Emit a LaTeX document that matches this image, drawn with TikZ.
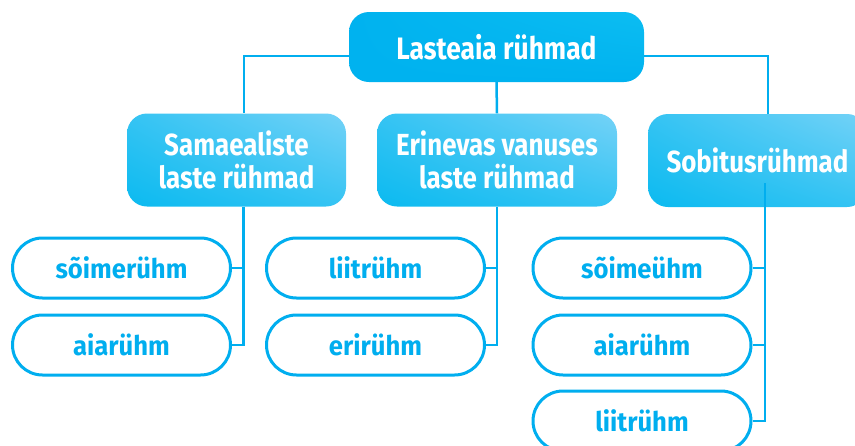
\documentclass[tikz,border=0pt]{standalone}
\usepackage{fontspec}
\setmainfont{Fira Sans}[FakeStretch=0.85]
\newfontfamily\kidfont{Fira Sans}[FakeStretch=0.95]
\usetikzlibrary{shadings}
\definecolor{kidblue}{HTML}{00AEEF}
\definecolor{rootblue}{HTML}{00B2EF}
\definecolor{rootlight}{HTML}{0CBDF2}
\definecolor{grpdark}{HTML}{0BBAF0}
\definecolor{grplight}{HTML}{74D2F7}
\begin{document}
\begin{tikzpicture}[x=1pt,y=-1pt,font=\bfseries,
  rootbox/.style={rounded corners=20pt, minimum width=295pt, minimum height=70pt,
    lower left=rootblue, lower right=rootblue, upper left=rootblue, upper right=rootlight,
    text=white, font=\bfseries\fontsize{31}{36}\selectfont},
  groupbox/.style={rounded corners=20pt, minimum width=219pt, minimum height=93pt, align=center,
    lower left=grpdark, lower right=grpdark!60!grplight, upper left=grpdark!60!grplight, upper right=grplight,
    text=white, font=\bfseries\fontsize{30.5}{33}\selectfont},
  kidbox/.style={draw=kidblue, line width=3pt, fill=white, rounded corners=30pt,
    minimum width=218pt, minimum height=60pt, text=kidblue,
    font=\kidfont\bfseries\fontsize{27}{30}\selectfont},
  link/.style={draw=kidblue, line width=2.5pt}]
\useasboundingbox (0,0) rectangle (855,445);

\node[rootbox] (root) at (496.5,47) {Lasteaia rühmad};

\node[groupbox] (same) at (236.5,160) {Samaealiste\\laste rühmad};
\node[groupbox, minimum width=240pt] (mixed) at (497,160) {Erinevas vanuses\\laste rühmad};
\node[groupbox] (sob) at (757.5,160.5) {Sobitusrühmad};

\node[kidbox] (s1) at (121.5,268) {sõimerühm};
\node[kidbox] (s2) at (121.5,345) {aiarühm};
\node[kidbox] (m1) at (375.5,268) {liitrühm};
\node[kidbox] (m2) at (375.5,345) {erirühm};
\node[kidbox] (r1) at (642,268) {sõimeühm};
\node[kidbox] (r2) at (642,345) {aiarühm};
\node[kidbox] (r3) at (642,421) {liitrühm};

% top level
\draw[link] ([yshift=-9pt]root.west) -| ([xshift=7.5pt]same.north);
\draw[link] ([yshift=-9pt]root.east) -| ([xshift=10.5pt]sob.north);
\draw[link] (root.south) -- (mixed.north);

% groups
\coordinate (sj) at ([xshift=7pt]same.south);
\draw[link] (sj) |- (s2.east);
\draw[link] (s1.east) -- (s1.east -| sj);

\draw[link] (mixed.south) |- (m2.east);
\draw[link] (m1.east) -- (m1.east -| mixed.south);

\coordinate (rj) at (765,183);
\draw[link] (rj) |- (r3.east);
\draw[link] (r1.east) -- (r1.east -| rj);
\draw[link] (r2.east) -- (r2.east -| rj);
\end{tikzpicture}
\end{document}
